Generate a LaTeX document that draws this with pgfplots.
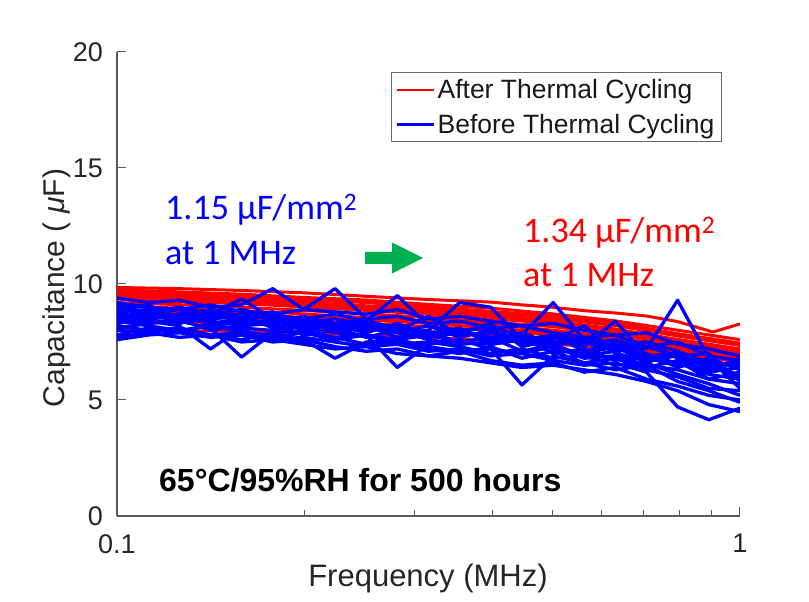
\documentclass[border=0pt]{standalone}
\usepackage{fontspec}
\usepackage{pgfplots}
\pgfplotsset{compat=1.18}
\usepackage{pgfplotstable}
\setmainfont{Liberation Sans}
\newfontfamily\calibri{Carlito}
\definecolor{mred}{RGB}{255,0,0}
\definecolor{mblue}{RGB}{0,0,255}
\definecolor{mgreen}{RGB}{0,176,80}
\definecolor{axgray}{RGB}{38,38,38}

\pgfplotstableread{
f      r1   r2   r3   r4   r5   r6   r7   r8   r9   r10  r11
0.1000 9.75 9.65 9.55 9.45 9.35 9.20 9.05 8.90 8.70 8.45 8.05
0.1259 9.66 9.55 9.46 9.36 9.24 9.11 8.96 8.80 8.62 8.38 8.00
0.1585 9.56 9.46 9.35 9.24 9.16 9.00 8.85 8.71 8.51 8.29 7.95
0.1995 9.42 9.31 9.21 9.12 9.01 8.86 8.71 8.56 8.41 8.18 7.88
0.2512 9.31 9.20 9.06 8.96 8.86 8.71 8.55 8.45 8.30 8.06 7.80
0.3162 9.12 9.01 8.91 8.81 8.70 8.56 8.41 8.30 8.15 7.95 7.70
0.3981 8.96 8.82 8.71 8.61 8.50 8.36 8.25 8.11 8.00 7.80 7.58
0.5012 8.71 8.61 8.51 8.40 8.31 8.16 8.01 7.90 7.80 7.62 7.42
0.6310 8.41 8.31 8.21 8.06 7.96 7.85 7.71 7.61 7.50 7.35 7.20
0.7943 8.01 7.86 7.76 7.61 7.51 7.41 7.31 7.21 7.11 7.00 6.95
1.0000 7.60 7.45 7.35 7.20 7.10 7.00 6.90 6.80 6.75 6.70 6.65
}\reddata

\pgfplotstableread{
f      b1  b2  b3  b4   b5  b6  b7   b8   b9   b10 b11 b12 b13 b14 b15 b16 b17 b18 b19 b20
0.1000 9.4 9.2 9.0 8.8  8.7 8.6 8.5  8.4  8.2  8.0 7.6 9.1 8.9 8.3 7.8 8.6 8.1 9.0 7.7 8.8
0.1122 9.2 9.0 8.8 8.9  8.5 8.4 8.3  8.2  8.0  7.9 7.8 8.7 9.1 8.5 8.1 8.8 8.3 8.6 7.9 8.5
0.1259 9.3 8.9 9.0 8.6  8.6 8.2 8.4  8.0  8.1  7.7 7.9 8.9 8.5 8.7 7.9 8.3 8.5 8.7 8.1 8.7
0.1413 9.0 9.1 8.7 8.7  8.3 7.2 8.1  8.2  7.8  7.8 7.7 8.5 8.8 8.4 8.3 8.6 8.0 8.9 7.8 8.3
0.1585 9.1 8.8 8.9 9.35 8.4 8.1 6.85 7.9  7.9  7.5 7.8 8.6 8.3 8.2 8.0 8.7 8.2 8.5 7.6 8.5
0.1778 9.8 8.7 8.6 8.5  8.2 8.0 7.9  7.8  7.6  7.6 7.5 8.8 8.4 8.5 7.7 8.1 8.3 8.3 7.9 8.6
0.1995 8.9 8.9 8.5 8.4  8.3 8.2 8.0  7.6  7.7  7.4 7.6 8.3 8.6 8.0 7.9 8.4 7.8 8.6 7.5 8.1
0.2239 8.8 9.8 8.7 8.2  8.0 7.9 7.7  6.8  7.5  7.2 7.3 8.5 8.0 8.1 7.6 8.2 8.0 8.3 7.7 8.3
0.2512 8.7 8.5 8.4 8.4  8.1 7.8 7.8  7.5  7.3  7.3 7.1 8.2 8.3 7.7 7.8 7.9 8.2 8.0 7.4 8.5
0.2818 8.9 8.6 9.5 8.1  7.9 7.6 6.4  7.6  7.4  7.0 7.2 8.0 7.9 8.0 7.4 8.3 7.7 8.2 7.5 7.9
0.3162 8.5 8.3 8.2 7.9  8.0 7.8 7.4  7.3  7.1  6.9 6.9 8.6 7.7 7.6 7.5 7.8 7.9 7.8 7.2 8.2
0.3548 8.6 8.4 8.0 8.0  9.2 7.5 7.6  7.1  7.2  7.1 6.8 7.8 7.9 7.4 7.3 8.0 7.5 8.1 7.0 7.7
0.3981 8.4 8.1 8.1 7.7  9.0 7.4 7.2  7.2  6.9  6.7 6.6 7.9 8.3 7.5 7.0 7.6 7.7 7.4 7.3 8.0
0.4467 8.2 8.2 7.8 7.8  7.6 7.6 7.0  5.65 7.0  6.5 6.4 7.5 7.3 7.7 7.2 7.9 7.1 7.6 6.8 7.4
0.5012 8.3 7.9 9.2 7.5  7.4 7.2 7.3  6.9  6.7  6.6 6.5 7.7 7.6 7.0 6.8 7.4 7.4 7.8 7.1 7.8
0.5623 8.0 7.7 7.6 7.4  7.5 7.0 6.8  6.6  6.5  6.2 6.3 7.3 8.2 7.2 6.9 7.7 6.9 7.1 6.6 7.5
0.6310 7.8 7.8 7.4 7.6  7.1 7.3 6.9  6.8  6.6  6.4 6.1 8.4 7.0 6.7 6.5 7.2 7.1 7.5 6.3 7.3
0.7079 7.9 7.3 7.5 7.2  7.3 6.8 6.5  6.3  6.2  5.9 5.8 6.9 6.7 7.0 6.6 7.5 6.4 6.9 6.5 6.6
0.7943 7.4 7.5 7.1 9.3  6.9 6.5 6.3  6.0  4.7  5.6 5.4 7.0 6.9 6.4 6.1 6.8 6.7 6.6 5.8 7.1
0.8913 7.2 6.9 6.6 6.8  6.4 6.7 5.9  5.5  4.15 5.2 4.8 6.5 7.0 6.8 5.7 6.2 5.9 6.1 5.4 6.3
1.0000 6.9 6.7 6.5 6.3  6.1 6.0 5.7  5.4  4.65 5.0 4.5 6.6 5.8 5.5 5.2 6.4 6.2 5.9 4.9 6.8
}\bluedata

\begin{document}
\begin{tikzpicture}[x=1pt,y=1pt]
\path[use as bounding box] (-117,-86) rectangle (692,516);
\begin{axis}[at={(0,0)}, anchor=south west,
  width=623pt, height=464pt, scale only axis,
  xmode=log, xmin=0.1, xmax=1, ymin=0, ymax=20,
  axis lines*=left,
  axis line style={draw=black!65, line width=1.2pt},
  xtick={0.1,1}, xticklabels={0.1,1},
  minor xtick={0.2,0.3,0.4,0.5,0.6,0.7,0.8,0.9},
  ytick={0,5,10,15,20},
  tick align=inside, major tick length=9pt, minor tick length=6pt,
  every tick/.style={draw=black!65, line width=1pt},
  ticklabel style={font=\fontsize{27}{30}\selectfont, text=axgray, inner sep=0pt},
  xticklabel style={anchor=north, yshift=-18pt},
  yticklabel style={anchor=east, xshift=-14pt},
  /pgf/number format/assume math mode=true,
  legend cell align=left,
  legend image code/.code={\draw[#1] (0pt,0pt) -- (37pt,0pt);},
  legend style={at={(0.971,0.957)}, anchor=north east,
    draw=black!60, line width=0.9pt, fill=white,
    font=\fontsize{26.5}{30}\selectfont, text=black!90,
    inner xsep=5pt, inner ysep=5pt, row sep=10pt,
    nodes={inner sep=2pt}},
  line join=round,
]
\addlegendimage{mred, line width=2.4pt}
\addlegendentry{After Thermal Cycling}
\addlegendimage{mblue, line width=2.4pt}
\addlegendentry{Before Thermal Cycling}

\addplot[mred, line width=3pt, forget plot] coordinates {
(0.1,9.85)(0.1259,9.80)(0.1585,9.72)(0.1995,9.62)(0.2512,9.47)(0.3162,9.33)
(0.3981,9.22)(0.4467,9.10)(0.4900,9.02)(0.5623,8.85)(0.6310,8.75)(0.7079,8.62)
(0.7943,8.38)(0.9050,7.93)(1.0,8.28)};
\pgfplotsinvokeforeach{1,...,11}{
  \addplot[mred, line width=3pt, forget plot] table[x=f, y=r#1] {\reddata};
}
\pgfplotsinvokeforeach{1,...,20}{
  \addplot[mblue, line width=3.3pt, forget plot] table[x=f, y=b#1] {\bluedata};
}
\end{axis}

\node[rotate=90, font=\fontsize{30}{34}\selectfont, text=axgray] at (-60,228) {Capacitance ( \textit{μ}F)};
\node[font=\fontsize{31}{34}\selectfont, text=axgray] at (311,-62) {Frequency (MHz)};

\node[anchor=base west, inner sep=0pt, text=mblue, font=\calibri\fontsize{36}{40}\selectfont] at (48,296) {1.15 µF/mm\textsuperscript{2}};
\node[anchor=base west, inner sep=0pt, text=mblue, font=\calibri\fontsize{36}{40}\selectfont] at (48,251) {at 1 MHz};
\node[anchor=base west, inner sep=0pt, text=mred, font=\calibri\fontsize{36}{40}\selectfont] at (406,273) {1.34 µF/mm\textsuperscript{2}};
\node[anchor=base west, inner sep=0pt, text=mred, font=\calibri\fontsize{36}{40}\selectfont] at (406,229) {at 1 MHz};
\fill[mgreen] (248,252) -- (275,252) -- (275,242.5) -- (306,258) -- (275,273.5) -- (275,264) -- (248,264) -- cycle;
\node[anchor=base west, inner sep=0pt, font=\bfseries\fontsize{32}{36}\selectfont] at (42,24) {65°C/95\%RH for 500 hours};
\end{tikzpicture}
\end{document}
